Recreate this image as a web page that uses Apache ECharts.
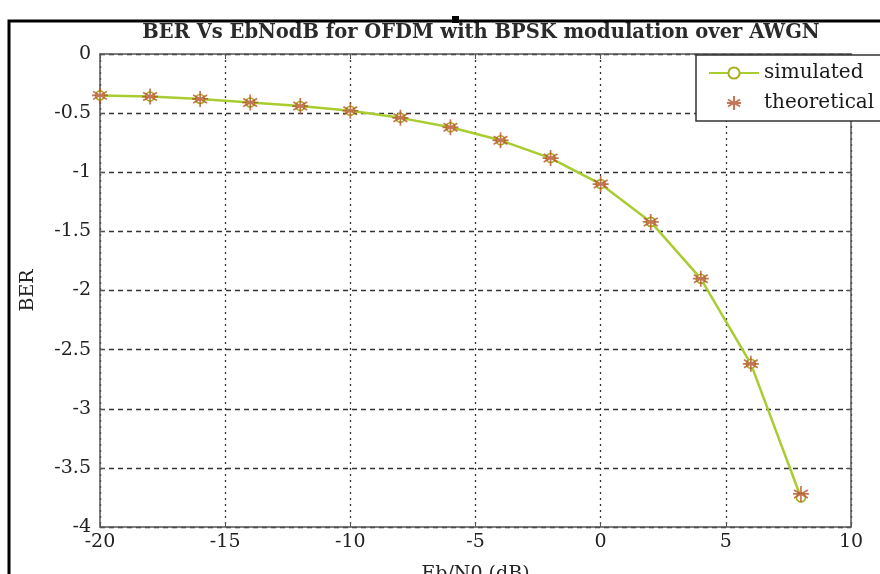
<!DOCTYPE html>
<html><head><meta charset="utf-8">
<script src="https://cdn.jsdelivr.net/npm/echarts@6/dist/echarts.min.js"></script>
<style>html,body{margin:0;padding:0;background:#fff}#c{width:880px;height:574px}</style>
</head><body><div id="c"></div>
<script>
const ebno = [-20,-18,-16,-14,-12,-10,-8,-6,-4,-2,0,2,4,6,8];
const simulated = [-0.35,-0.36,-0.38,-0.41,-0.44,-0.48,-0.54,-0.62,-0.73,-0.88,-1.10,-1.42,-1.90,-2.62,-3.75];
const theoretical = [-0.35,-0.36,-0.38,-0.41,-0.44,-0.48,-0.54,-0.62,-0.73,-0.88,-1.10,-1.42,-1.90,-2.62,-3.72];
const xTicks = [-20,-15,-10,-5,0,5,10];
const yTicks = [0,-0.5,-1,-1.5,-2,-2.5,-3,-3.5,-4];

const FONT = 'DejaVu Serif';
const star = 'path://M0,-10L0,10M-8.66,-5L8.66,5M-8.66,5L8.66,-5M-10,0L10,0';
const chart = echarts.init(document.getElementById('c'));
const axisLine = {show:true, onZero:false, lineStyle:{color:'#555', width:1.5}};
const tick = {inside:true, length:5, lineStyle:{color:'#555'}};
const lbl = {fontFamily:FONT, fontSize:19, color:'#222'};
chart.setOption({
  animation:false,
  backgroundColor:'#fff',
  title:{text:'BER Vs EbNodB for OFDM with BPSK modulation over AWGN', left:476, textAlign:'center', top:18,
    textStyle:{fontFamily:FONT, fontSize:19.5, fontWeight:'bold', color:'#2a2a2a'}},
  grid:{left:100, right:29, top:54, bottom:47, outerBoundsMode:'none'},
  legend:{left:696, top:55, orient:'vertical', itemGap:10, padding:[8,60,8,12],
    borderColor:'#333', borderWidth:1.5, backgroundColor:'#fff', itemWidth:50, itemHeight:14,
    textStyle:{fontFamily:FONT, fontSize:20, color:'#1a1a1a'},
    data:['simulated','theoretical']},
  xAxis:[{type:'value', min:xTicks[0], max:xTicks[xTicks.length-1], interval:5,
    axisLine:axisLine, axisTick:tick,
    axisLabel:Object.assign({margin:6}, lbl),
    splitLine:{show:true, lineStyle:{color:'#333', type:[2,4], width:1.3}},
    name:'Eb/N0 (dB)', nameLocation:'middle', nameGap:38, nameTextStyle:lbl},
    {type:'value', position:'top', min:xTicks[0], max:xTicks[xTicks.length-1], interval:5, axisLine:axisLine,
     axisTick:tick, axisLabel:{show:false}, splitLine:{show:false}}],
  yAxis:[{type:'value', min:yTicks[yTicks.length-1], max:yTicks[0], interval:0.5,
    axisLine:axisLine, axisTick:tick,
    axisLabel:Object.assign({margin:9}, lbl),
    splitLine:{show:true, lineStyle:{color:'#333', type:[5,4], width:1.3}},
    name:'BER', nameLocation:'middle', nameGap:62, nameTextStyle:lbl},
    {type:'value', position:'right', min:yTicks[yTicks.length-1], max:yTicks[0], interval:0.5, axisLine:axisLine,
     axisTick:tick, axisLabel:{show:false}, splitLine:{show:false}}],
  graphic:[
    {type:'polyline', shape:{points:[[9,574],[9,21],[880,21]]}, style:{stroke:'#000', lineWidth:3, fill:null}, z:100},
    {type:'rect', shape:{x:452, y:16, width:7, height:7}, style:{fill:'#000'}, z:100}
  ],
  series:[
    {name:'simulated', type:'line', data:ebno.map((x,i)=>[x,simulated[i]]),
     symbol:'circle', symbolSize:9, showSymbol:true,
     lineStyle:{color:'#a9cc30', width:2.5},
     itemStyle:{color:'#fff', borderColor:'#a8b020', borderWidth:1.6}, z:2},
    {name:'theoretical', type:'scatter', data:ebno.map((x,i)=>[x,theoretical[i]]),
     symbol:star, symbolSize:16,
     itemStyle:{color:'rgba(0,0,0,0)', borderColor:'#b5532c', borderWidth:1.7}, z:3}
  ]
});
</script></body></html>
